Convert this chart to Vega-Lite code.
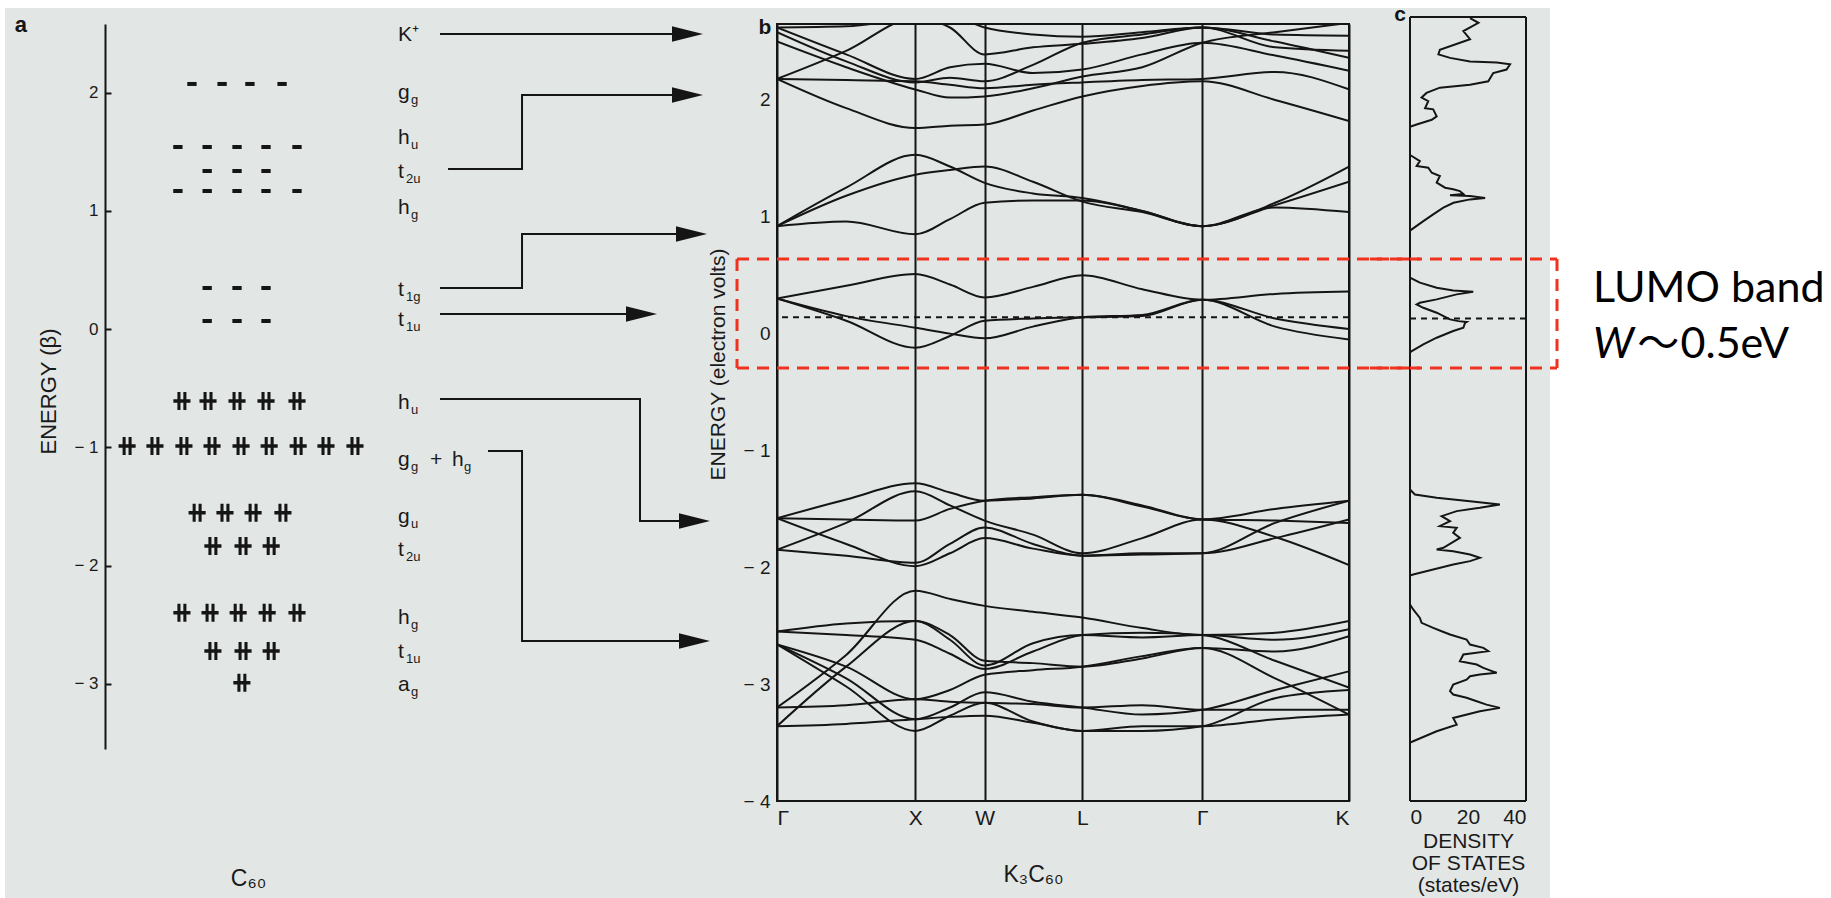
{
"$schema": "https://vega.github.io/schema/vega-lite/v6.json",
"background": "white",
"padding": 0,
"autosize": {"type": "pad"},
"bounds": "flush",
"spacing": 61,
"config": {
  "view": {"stroke": null},
  "font": "Liberation Sans",
  "axis": {"grid": false, "labelColor": "#1a1a1a", "titleColor": "#1a1a1a", "labelFont": "Liberation Sans", "titleFont": "Liberation Sans", "titleFontWeight": "normal"}
},
"datasets": {
  "levels": [
    {"E":2.073,"s":-1.71,"occ":"e"},{"E":2.073,"s":-0.66,"occ":"e"},{"E":2.073,"s":0.31,"occ":"e"},{"E":2.073,"s":1.43,"occ":"e"},
    {"E":1.540,"s":-2.20,"occ":"e"},{"E":1.540,"s":-1.18,"occ":"e"},{"E":1.540,"s":-0.14,"occ":"e"},{"E":1.540,"s":0.87,"occ":"e"},{"E":1.540,"s":1.95,"occ":"e"},
    {"E":1.337,"s":-1.18,"occ":"e"},{"E":1.337,"s":-0.14,"occ":"e"},{"E":1.337,"s":0.87,"occ":"e"},
    {"E":1.168,"s":-2.20,"occ":"e"},{"E":1.168,"s":-1.18,"occ":"e"},{"E":1.168,"s":-0.14,"occ":"e"},{"E":1.168,"s":0.87,"occ":"e"},{"E":1.168,"s":1.95,"occ":"e"},
    {"E":0.348,"s":-1.18,"occ":"e"},{"E":0.348,"s":-0.14,"occ":"e"},{"E":0.348,"s":0.87,"occ":"e"},
    {"E":0.069,"s":-1.18,"occ":"e"},{"E":0.069,"s":-0.14,"occ":"e"},{"E":0.069,"s":0.87,"occ":"e"},
    {"E":-0.608,"s":-2.06,"occ":"f"},{"E":-0.608,"s":-1.15,"occ":"f"},{"E":-0.608,"s":-0.14,"occ":"f"},{"E":-0.608,"s":0.87,"occ":"f"},{"E":-0.608,"s":1.95,"occ":"f"},
    {"E":-0.988,"s":-3.97,"occ":"f"},{"E":-0.988,"s":-3.0,"occ":"f"},{"E":-0.988,"s":-1.99,"occ":"f"},{"E":-0.988,"s":-1.01,"occ":"f"},{"E":-0.988,"s":0,"occ":"f"},{"E":-0.988,"s":0.98,"occ":"f"},{"E":-0.988,"s":1.99,"occ":"f"},{"E":-0.988,"s":2.96,"occ":"f"},{"E":-0.988,"s":3.97,"occ":"f"},
    {"E":-1.552,"s":-1.53,"occ":"f"},{"E":-1.552,"s":-0.56,"occ":"f"},{"E":-1.552,"s":0.42,"occ":"f"},{"E":-1.552,"s":1.46,"occ":"f"},
    {"E":-1.834,"s":-0.98,"occ":"f"},{"E":-1.834,"s":0.07,"occ":"f"},{"E":-1.834,"s":1.05,"occ":"f"},
    {"E":-2.398,"s":-2.06,"occ":"f"},{"E":-2.398,"s":-1.08,"occ":"f"},{"E":-2.398,"s":-0.10,"occ":"f"},{"E":-2.398,"s":0.91,"occ":"f"},{"E":-2.398,"s":1.95,"occ":"f"},
    {"E":-2.722,"s":-0.98,"occ":"f"},{"E":-2.722,"s":0.07,"occ":"f"},{"E":-2.722,"s":1.05,"occ":"f"},
    {"E":-2.990,"s":0.03,"occ":"f"}
  ],
  "orbLabels": [
    {"t":"K⁺","sub":"","E":2.436,"s":5.47,"s2":5.92},
    {"t":"g","sub":"g","E":1.943,"s":5.47,"s2":5.92},
    {"t":"h","sub":"u","E":1.565,"s":5.47,"s2":5.92},
    {"t":"t","sub":"2u","E":1.278,"s":5.47,"s2":5.75},
    {"t":"h","sub":"g","E":0.973,"s":5.47,"s2":5.92},
    {"t":"t","sub":"1g","E":0.280,"s":5.47,"s2":5.75},
    {"t":"t","sub":"1u","E":0.027,"s":5.47,"s2":5.75},
    {"t":"h","sub":"u","E":-0.675,"s":5.47,"s2":5.92},
    {"t":"g","sub":"g","E":-1.157,"s":5.47,"s2":5.92},
    {"t":"+","sub":"","E":-1.157,"s":6.585,"s2":6.9},
    {"t":"h","sub":"g","E":-1.157,"s":7.352,"s2":7.77},
    {"t":"g","sub":"u","E":-1.639,"s":5.47,"s2":5.92},
    {"t":"t","sub":"2u","E":-1.918,"s":5.47,"s2":5.75},
    {"t":"h","sub":"g","E":-2.493,"s":5.47,"s2":5.92},
    {"t":"t","sub":"1u","E":-2.780,"s":5.47,"s2":5.75},
    {"t":"a","sub":"g","E":-3.059,"s":5.47,"s2":5.92}
  ],
  "arrows": [
    {"a":1,"o":0,"s":6.934,"E":2.495},{"a":1,"o":1,"s":15.557,"E":2.495},
    {"a":2,"o":0,"s":7.213,"E":1.354},{"a":2,"o":1,"s":9.791,"E":1.354},{"a":2,"o":2,"s":9.791,"E":1.980},{"a":2,"o":3,"s":15.557,"E":1.980},
    {"a":3,"o":0,"s":6.934,"E":0.348},{"a":3,"o":1,"s":9.791,"E":0.348},{"a":3,"o":2,"s":9.791,"E":0.804},{"a":3,"o":3,"s":15.697,"E":0.804},
    {"a":4,"o":0,"s":6.934,"E":0.128},{"a":4,"o":1,"s":13.955,"E":0.128},
    {"a":5,"o":0,"s":6.934,"E":-0.591},{"a":5,"o":1,"s":13.902,"E":-0.591},{"a":5,"o":2,"s":13.902,"E":-1.622},{"a":5,"o":3,"s":15.801,"E":-1.622},
    {"a":6,"o":0,"s":8.606,"E":-1.030},{"a":6,"o":1,"s":9.791,"E":-1.030},{"a":6,"o":2,"s":9.791,"E":-2.637},{"a":6,"o":3,"s":15.801,"E":-2.637}
  ],
  "heads": [
    {"s":15.557,"E":2.495},{"s":15.557,"E":1.980},{"s":15.697,"E":0.804},{"s":13.955,"E":0.128},{"s":15.801,"E":-1.622},{"s":15.801,"E":-2.637}
  ],
  "bands": [
    {"b":"b1","k":0,"E":0.30},{"b":"b1","k":0.5,"E":0.41},{"b":"b1","k":1,"E":0.51},{"b":"b1","k":1.25,"E":0.42},{"b":"b1","k":1.5,"E":0.31},{"b":"b1","k":1.85,"E":0.40},{"b":"b1","k":2.207,"E":0.50},{"b":"b1","k":2.64,"E":0.38},{"b":"b1","k":3.073,"E":0.29},{"b":"b1","k":3.6,"E":0.34},{"b":"b1","k":4.134,"E":0.36},
    {"b":"b2","k":0,"E":0.30},{"b":"b2","k":0.5,"E":0.15},{"b":"b2","k":1,"E":0.05},{"b":"b2","k":1.25,"E":0.00},{"b":"b2","k":1.5,"E":-0.04},{"b":"b2","k":1.85,"E":0.06},{"b":"b2","k":2.207,"E":0.14},{"b":"b2","k":2.64,"E":0.16},{"b":"b2","k":3.073,"E":0.29},{"b":"b2","k":3.6,"E":0.13},{"b":"b2","k":4.134,"E":0.04},
    {"b":"b3","k":0,"E":0.30},{"b":"b3","k":0.5,"E":0.11},{"b":"b3","k":1,"E":-0.12},{"b":"b3","k":1.25,"E":-0.02},{"b":"b3","k":1.5,"E":0.11},{"b":"b3","k":1.85,"E":0.13},{"b":"b3","k":2.207,"E":0.14},{"b":"b3","k":2.64,"E":0.15},{"b":"b3","k":3.073,"E":0.29},{"b":"b3","k":3.6,"E":0.06},{"b":"b3","k":4.134,"E":-0.05},
    {"b":"c1","k":0,"E":0.92},{"b":"c1","k":0.5,"E":1.25},{"b":"c1","k":1,"E":1.53},{"b":"c1","k":1.25,"E":1.43},{"b":"c1","k":1.5,"E":1.29},{"b":"c1","k":1.85,"E":1.20},{"b":"c1","k":2.207,"E":1.16},{"b":"c1","k":2.64,"E":1.05},{"b":"c1","k":3.073,"E":0.92},{"b":"c1","k":3.6,"E":1.12},{"b":"c1","k":4.134,"E":1.43},
    {"b":"c2","k":0,"E":0.92},{"b":"c2","k":0.5,"E":1.18},{"b":"c2","k":1,"E":1.36},{"b":"c2","k":1.25,"E":1.40},{"b":"c2","k":1.5,"E":1.43},{"b":"c2","k":1.85,"E":1.30},{"b":"c2","k":2.207,"E":1.13},{"b":"c2","k":2.64,"E":1.04},{"b":"c2","k":3.073,"E":0.92},{"b":"c2","k":3.6,"E":1.10},{"b":"c2","k":4.134,"E":1.30},
    {"b":"c3","k":0,"E":0.92},{"b":"c3","k":0.5,"E":0.96},{"b":"c3","k":1,"E":0.85},{"b":"c3","k":1.25,"E":0.98},{"b":"c3","k":1.5,"E":1.12},{"b":"c3","k":1.85,"E":1.14},{"b":"c3","k":2.207,"E":1.14},{"b":"c3","k":2.64,"E":1.05},{"b":"c3","k":3.073,"E":0.92},{"b":"c3","k":3.6,"E":1.08},{"b":"c3","k":4.134,"E":1.04},
    {"b":"ta","k":0,"E":2.18},{"b":"ta","k":0.5,"E":2.17},{"b":"ta","k":1,"E":2.16},{"b":"ta","k":1.25,"E":2.13},{"b":"ta","k":1.5,"E":2.10},{"b":"ta","k":1.85,"E":2.13},{"b":"ta","k":2.207,"E":2.15},{"b":"ta","k":2.64,"E":2.17},{"b":"ta","k":3.073,"E":2.18},{"b":"ta","k":3.6,"E":2.24},{"b":"ta","k":4.134,"E":2.09},
    {"b":"tb","k":0,"E":2.18},{"b":"tb","k":0.5,"E":1.93},{"b":"tb","k":1,"E":1.76},{"b":"tb","k":1.25,"E":1.78},{"b":"tb","k":1.5,"E":1.79},{"b":"tb","k":1.85,"E":1.91},{"b":"tb","k":2.207,"E":2.03},{"b":"tb","k":2.64,"E":2.12},{"b":"tb","k":3.073,"E":2.16},{"b":"tb","k":3.6,"E":2.00},{"b":"tb","k":4.134,"E":1.82},
    {"b":"tc","k":0,"E":2.18},{"b":"tc","k":0.5,"E":2.42},{"b":"tc","k":1,"E":2.70},{"b":"tc","k":1.25,"E":2.62},{"b":"tc","k":1.5,"E":2.39},{"b":"tc","k":1.85,"E":2.45},{"b":"tc","k":2.207,"E":2.48},{"b":"tc","k":2.64,"E":2.53},{"b":"tc","k":3.073,"E":2.62},{"b":"tc","k":3.6,"E":2.50},{"b":"tc","k":4.134,"E":2.36},
    {"b":"td","k":0,"E":2.62},{"b":"td","k":0.5,"E":2.39},{"b":"td","k":1,"E":2.18},{"b":"td","k":1.25,"E":2.28},{"b":"td","k":1.5,"E":2.31},{"b":"td","k":1.85,"E":2.23},{"b":"td","k":2.207,"E":2.26},{"b":"td","k":2.64,"E":2.39},{"b":"td","k":3.073,"E":2.49},{"b":"td","k":3.6,"E":2.38},{"b":"td","k":4.134,"E":2.25},
    {"b":"te","k":0,"E":2.58},{"b":"te","k":0.5,"E":2.33},{"b":"te","k":1,"E":2.15},{"b":"te","k":1.25,"E":2.19},{"b":"te","k":1.5,"E":2.16},{"b":"te","k":1.85,"E":2.30},{"b":"te","k":2.207,"E":2.49},{"b":"te","k":2.64,"E":2.56},{"b":"te","k":3.073,"E":2.62},{"b":"te","k":3.6,"E":2.56},{"b":"te","k":4.134,"E":2.55},
    {"b":"tf","k":0,"E":2.50},{"b":"tf","k":0.5,"E":2.28},{"b":"tf","k":1,"E":2.09},{"b":"tf","k":1.25,"E":2.02},{"b":"tf","k":1.5,"E":2.03},{"b":"tf","k":1.85,"E":2.10},{"b":"tf","k":2.207,"E":2.20},{"b":"tf","k":2.64,"E":2.28},{"b":"tf","k":3.073,"E":2.49},{"b":"tf","k":3.6,"E":2.58},{"b":"tf","k":4.134,"E":2.66},
    {"b":"tg","k":0,"E":2.62},{"b":"tg","k":0.5,"E":2.63},{"b":"tg","k":1,"E":2.70},{"b":"tg","k":1.25,"E":2.72},{"b":"tg","k":1.5,"E":2.62},{"b":"tg","k":1.85,"E":2.56},{"b":"tg","k":2.207,"E":2.54},{"b":"tg","k":2.64,"E":2.58},{"b":"tg","k":3.073,"E":2.62},{"b":"tg","k":3.6,"E":2.45},{"b":"tg","k":4.134,"E":2.42},
    {"b":"h1","k":0,"E":-1.58},{"b":"h1","k":0.5,"E":-1.42},{"b":"h1","k":1,"E":-1.28},{"b":"h1","k":1.25,"E":-1.36},{"b":"h1","k":1.5,"E":-1.43},{"b":"h1","k":1.85,"E":-1.41},{"b":"h1","k":2.207,"E":-1.38},{"b":"h1","k":2.64,"E":-1.47},{"b":"h1","k":3.073,"E":-1.59},{"b":"h1","k":3.6,"E":-1.50},{"b":"h1","k":4.134,"E":-1.43},
    {"b":"h2","k":0,"E":-1.58},{"b":"h2","k":0.5,"E":-1.59},{"b":"h2","k":1,"E":-1.60},{"b":"h2","k":1.25,"E":-1.50},{"b":"h2","k":1.5,"E":-1.43},{"b":"h2","k":1.85,"E":-1.40},{"b":"h2","k":2.207,"E":-1.38},{"b":"h2","k":2.64,"E":-1.48},{"b":"h2","k":3.073,"E":-1.59},{"b":"h2","k":3.6,"E":-1.60},{"b":"h2","k":4.134,"E":-1.62},
    {"b":"h3","k":0,"E":-1.58},{"b":"h3","k":0.5,"E":-1.80},{"b":"h3","k":1,"E":-1.99},{"b":"h3","k":1.25,"E":-1.88},{"b":"h3","k":1.5,"E":-1.75},{"b":"h3","k":1.85,"E":-1.84},{"b":"h3","k":2.207,"E":-1.90},{"b":"h3","k":2.64,"E":-1.88},{"b":"h3","k":3.073,"E":-1.88},{"b":"h3","k":3.6,"E":-1.75},{"b":"h3","k":4.134,"E":-1.59},
    {"b":"h4","k":0,"E":-1.85},{"b":"h4","k":0.5,"E":-1.62},{"b":"h4","k":1,"E":-1.35},{"b":"h4","k":1.25,"E":-1.47},{"b":"h4","k":1.5,"E":-1.60},{"b":"h4","k":1.85,"E":-1.72},{"b":"h4","k":2.207,"E":-1.88},{"b":"h4","k":2.64,"E":-1.75},{"b":"h4","k":3.073,"E":-1.59},{"b":"h4","k":3.6,"E":-1.74},{"b":"h4","k":4.134,"E":-1.98},
    {"b":"h5","k":0,"E":-1.85},{"b":"h5","k":0.5,"E":-1.90},{"b":"h5","k":1,"E":-1.96},{"b":"h5","k":1.25,"E":-1.80},{"b":"h5","k":1.5,"E":-1.66},{"b":"h5","k":1.85,"E":-1.80},{"b":"h5","k":2.207,"E":-1.90},{"b":"h5","k":2.64,"E":-1.89},{"b":"h5","k":3.073,"E":-1.88},{"b":"h5","k":3.6,"E":-1.62},{"b":"h5","k":4.134,"E":-1.43},
    {"b":"g1","k":0,"E":-3.20},{"b":"g1","k":0.5,"E":-2.75},{"b":"g1","k":1,"E":-2.20},{"b":"g1","k":1.25,"E":-2.27},{"b":"g1","k":1.5,"E":-2.33},{"b":"g1","k":1.85,"E":-2.38},{"b":"g1","k":2.207,"E":-2.43},{"b":"g1","k":2.64,"E":-2.52},{"b":"g1","k":3.073,"E":-2.58},{"b":"g1","k":3.6,"E":-2.56},{"b":"g1","k":4.134,"E":-2.46},
    {"b":"g2","k":0,"E":-3.36},{"b":"g2","k":0.5,"E":-2.85},{"b":"g2","k":1,"E":-2.46},{"b":"g2","k":1.25,"E":-2.58},{"b":"g2","k":1.5,"E":-2.80},{"b":"g2","k":1.85,"E":-2.82},{"b":"g2","k":2.207,"E":-2.85},{"b":"g2","k":2.64,"E":-2.78},{"b":"g2","k":3.073,"E":-2.69},{"b":"g2","k":3.6,"E":-2.95},{"b":"g2","k":4.134,"E":-3.26},
    {"b":"g3","k":0,"E":-2.55},{"b":"g3","k":0.5,"E":-2.48},{"b":"g3","k":1,"E":-2.46},{"b":"g3","k":1.25,"E":-2.62},{"b":"g3","k":1.5,"E":-2.84},{"b":"g3","k":1.85,"E":-2.65},{"b":"g3","k":2.207,"E":-2.58},{"b":"g3","k":2.64,"E":-2.60},{"b":"g3","k":3.073,"E":-2.58},{"b":"g3","k":3.6,"E":-2.62},{"b":"g3","k":4.134,"E":-2.53},
    {"b":"g4","k":0,"E":-2.55},{"b":"g4","k":0.5,"E":-2.58},{"b":"g4","k":1,"E":-2.62},{"b":"g4","k":1.25,"E":-2.74},{"b":"g4","k":1.5,"E":-2.87},{"b":"g4","k":1.85,"E":-2.72},{"b":"g4","k":2.207,"E":-2.58},{"b":"g4","k":2.64,"E":-2.56},{"b":"g4","k":3.073,"E":-2.58},{"b":"g4","k":3.6,"E":-2.80},{"b":"g4","k":4.134,"E":-3.03},
    {"b":"g5","k":0,"E":-2.66},{"b":"g5","k":0.5,"E":-2.85},{"b":"g5","k":1,"E":-3.13},{"b":"g5","k":1.25,"E":-3.05},{"b":"g5","k":1.5,"E":-2.92},{"b":"g5","k":1.85,"E":-2.88},{"b":"g5","k":2.207,"E":-2.85},{"b":"g5","k":2.64,"E":-2.76},{"b":"g5","k":3.073,"E":-2.69},{"b":"g5","k":3.6,"E":-2.72},{"b":"g5","k":4.134,"E":-2.59},
    {"b":"g6","k":0,"E":-2.66},{"b":"g6","k":0.5,"E":-2.95},{"b":"g6","k":1,"E":-3.30},{"b":"g6","k":1.25,"E":-3.20},{"b":"g6","k":1.5,"E":-3.07},{"b":"g6","k":1.85,"E":-3.15},{"b":"g6","k":2.207,"E":-3.20},{"b":"g6","k":2.64,"E":-3.26},{"b":"g6","k":3.073,"E":-3.22},{"b":"g6","k":3.6,"E":-3.05},{"b":"g6","k":4.134,"E":-2.89},
    {"b":"g7","k":0,"E":-2.66},{"b":"g7","k":0.5,"E":-3.02},{"b":"g7","k":1,"E":-3.40},{"b":"g7","k":1.25,"E":-3.27},{"b":"g7","k":1.5,"E":-3.16},{"b":"g7","k":1.85,"E":-3.32},{"b":"g7","k":2.207,"E":-3.40},{"b":"g7","k":2.64,"E":-3.40},{"b":"g7","k":3.073,"E":-3.36},{"b":"g7","k":3.6,"E":-3.12},{"b":"g7","k":4.134,"E":-3.05},
    {"b":"g8","k":0,"E":-3.20},{"b":"g8","k":0.5,"E":-3.18},{"b":"g8","k":1,"E":-3.13},{"b":"g8","k":1.25,"E":-3.15},{"b":"g8","k":1.5,"E":-3.16},{"b":"g8","k":1.85,"E":-3.17},{"b":"g8","k":2.207,"E":-3.20},{"b":"g8","k":2.64,"E":-3.18},{"b":"g8","k":3.073,"E":-3.22},{"b":"g8","k":3.6,"E":-3.22},{"b":"g8","k":4.134,"E":-3.22},
    {"b":"g9","k":0,"E":-3.36},{"b":"g9","k":0.5,"E":-3.34},{"b":"g9","k":1,"E":-3.30},{"b":"g9","k":1.25,"E":-3.28},{"b":"g9","k":1.5,"E":-3.27},{"b":"g9","k":1.85,"E":-3.33},{"b":"g9","k":2.207,"E":-3.40},{"b":"g9","k":2.64,"E":-3.36},{"b":"g9","k":3.073,"E":-3.36},{"b":"g9","k":3.6,"E":-3.30},{"b":"g9","k":4.134,"E":-3.26}
  ],
  "dos": [
    {"E":2.70,"D":20.7},{"E":2.66,"D":23.6},{"E":2.59,"D":18.4},{"E":2.52,"D":20.7},{"E":2.43,"D":10.3},{"E":2.39,"D":9.8},{"E":2.36,"D":13.8},{"E":2.33,"D":20.7},{"E":2.32,"D":29.9},{"E":2.305,"D":34.5},{"E":2.26,"D":33.3},{"E":2.23,"D":28.7},{"E":2.16,"D":27.0},{"E":2.13,"D":20.7},{"E":2.105,"D":10.3},{"E":2.06,"D":5.7},{"E":2.02,"D":4.0},{"E":1.99,"D":6.3},{"E":1.93,"D":5.2},{"E":1.92,"D":8.0},{"E":1.86,"D":9.2},{"E":1.83,"D":7.5},{"E":1.79,"D":2.3},{"E":1.77,"D":0},
    {"E":1.53,"D":0},{"E":1.52,"D":0.6},{"E":1.477,"D":3.4},{"E":1.434,"D":2.3},{"E":1.42,"D":6.3},{"E":1.377,"D":7.5},{"E":1.349,"D":10.3},{"E":1.292,"D":9.2},{"E":1.249,"D":12.1},{"E":1.235,"D":14.9},{"E":1.22,"D":17.2},{"E":1.195,"D":18.4},{"E":1.185,"D":13.8},{"E":1.178,"D":20.7},{"E":1.16,"D":25.9},{"E":1.149,"D":20.7},{"E":1.12,"D":15.0},{"E":1.078,"D":11.5},{"E":1.02,"D":8.0},{"E":0.963,"D":4.6},{"E":0.892,"D":0.6},{"E":0.88,"D":0},
    {"E":0.48,"D":0},{"E":0.436,"D":3.4},{"E":0.393,"D":9.2},{"E":0.37,"D":14.9},{"E":0.358,"D":21.8},{"E":0.336,"D":16.1},{"E":0.293,"D":9.2},{"E":0.264,"D":3.4},{"E":0.25,"D":2.3},{"E":0.221,"D":4.6},{"E":0.179,"D":9.2},{"E":0.122,"D":13.8},{"E":0.107,"D":16.7},{"E":0.10,"D":19.5},{"E":0.093,"D":19.0},{"E":0.05,"D":18.4},{"E":0.022,"D":14.9},{"E":-0.035,"D":9.2},{"E":-0.092,"D":4.6},{"E":-0.15,"D":0.6},{"E":-0.16,"D":0},
    {"E":-1.334,"D":0},{"E":-1.377,"D":1.7},{"E":-1.405,"D":9.2},{"E":-1.434,"D":20.7},{"E":-1.462,"D":31.0},{"E":-1.491,"D":24.1},{"E":-1.519,"D":16.1},{"E":-1.562,"D":10.9},{"E":-1.605,"D":13.8},{"E":-1.648,"D":10.3},{"E":-1.662,"D":16.1},{"E":-1.705,"D":14.9},{"E":-1.748,"D":17.2},{"E":-1.833,"D":11.5},{"E":-1.848,"D":9.2},{"E":-1.862,"D":14.9},{"E":-1.89,"D":20.7},{"E":-1.919,"D":24.1},{"E":-1.947,"D":20.7},{"E":-1.976,"D":14.9},{"E":-2.019,"D":8.0},{"E":-2.062,"D":1.1},{"E":-2.07,"D":0},
    {"E":-2.318,"D":0},{"E":-2.361,"D":1.1},{"E":-2.433,"D":3.4},{"E":-2.475,"D":4.0},{"E":-2.518,"D":8.0},{"E":-2.547,"D":10.9},{"E":-2.575,"D":13.8},{"E":-2.618,"D":19.5},{"E":-2.661,"D":20.7},{"E":-2.689,"D":25.3},{"E":-2.718,"D":27.0},{"E":-2.746,"D":18.4},{"E":-2.804,"D":17.2},{"E":-2.832,"D":23.0},{"E":-2.861,"D":25.3},{"E":-2.903,"D":29.9},{"E":-2.918,"D":24.1},{"E":-2.932,"D":20.7},{"E":-2.961,"D":19.5},{"E":-3.003,"D":14.9},{"E":-3.06,"D":13.8},{"E":-3.089,"D":14.9},{"E":-3.117,"D":19.5},{"E":-3.146,"D":23.0},{"E":-3.175,"D":26.4},{"E":-3.203,"D":31.0},{"E":-3.232,"D":24.1},{"E":-3.289,"D":14.9},{"E":-3.346,"D":16.1},{"E":-3.403,"D":9.2},{"E":-3.489,"D":1.1},{"E":-3.5,"D":0}
  ]
},
"hconcat": [
  {
    "width": 611, "height": 725,
    "layer": [
      {"data": {"values": [{}]}, "mark": {"type": "rect", "fill": "#ffffff"},
       "encoding": {
         "x": {"datum": -8.3986, "type": "quantitative", "scale": {"domain": [-4.74, 16.55], "nice": false, "zero": false},
               "axis": {"title": "C₆₀", "domain": false, "ticks": false, "labels": false, "grid": false, "zindex": 1, "titleFontSize": 23, "titleX": 143, "titleY": 129, "titleBaseline": "middle", "titleAlign": "center"}},
         "x2": {"datum": 55.402},
         "y": {"datum": 2.7745, "type": "quantitative", "scale": {"domain": [-3.55, 2.58], "nice": false, "zero": false},
               "axis": {"values": [-3, -2, -1, 0, 1, 2], "labelExpr": "datum.value < 0 ? '− ' + abs(datum.value) : '' + datum.value", "zindex": 1, "domainColor": "#151515", "domainWidth": 2, "ticks": true, "tickSize": -6, "tickColor": "#151515", "tickWidth": 2, "labelPadding": 13, "labelFontSize": 17, "title": "ENERGY (β)", "titleFontSize": 22, "titleX": -57, "titleY": 367, "titleAngle": 270, "titleAlign": "center", "titleBaseline": "middle"}},
         "y2": {"datum": -4.8183}
       }},
      {"data": {"values": [{}]}, "mark": {"type": "rect", "fill": "#e2e7e5"},
       "encoding": {
         "x": {"datum": -8.2245, "type": "quantitative"},
         "x2": {"datum": 45.609},
         "y": {"datum": 2.7153, "type": "quantitative"},
         "y2": {"datum": -4.8183}
       }},
      {"data": {"name": "levels"}, "transform": [{"filter": "datum.occ == 'e'"}],
       "mark": {"type": "point", "shape": "M-1,-0.43L1,-0.43L1,0.43L-1,0.43Z", "size": 87, "filled": true, "color": "#151515", "opacity": 1, "strokeWidth": 0},
       "encoding": {"x": {"field": "s", "type": "quantitative"}, "y": {"field": "E", "type": "quantitative"}}},
      {"data": {"name": "levels"}, "transform": [{"filter": "datum.occ == 'f'"}],
       "mark": {"type": "point", "shape": "M-0.95,-0.2L0.95,-0.2L0.95,0.2L-0.95,0.2Z M-0.5,-1L-0.16,-1L-0.16,1L-0.5,1Z M0.16,-1L0.5,-1L0.5,1L0.16,1Z", "size": 324, "filled": true, "color": "#151515", "opacity": 1, "strokeWidth": 0},
       "encoding": {"x": {"field": "s", "type": "quantitative"}, "y": {"field": "E", "type": "quantitative"}}},
      {"data": {"name": "arrows"},
       "mark": {"type": "line", "strokeWidth": 2, "color": "#151515"},
       "encoding": {"x": {"field": "s", "type": "quantitative"}, "y": {"field": "E", "type": "quantitative"}, "detail": {"field": "a", "type": "nominal"}, "order": {"field": "o", "type": "quantitative"}}},
      {"data": {"name": "heads"},
       "mark": {"type": "point", "shape": "M-1,-0.5L1,0L-1,0.5Z", "size": 961, "filled": true, "color": "#151515", "opacity": 1, "strokeWidth": 0},
       "encoding": {"x": {"field": "s", "type": "quantitative"}, "y": {"field": "E", "type": "quantitative"}}},
      {"data": {"name": "orbLabels"},
       "mark": {"type": "text", "align": "left", "baseline": "alphabetic", "fontSize": 21, "color": "#1a1a1a"},
       "encoding": {"x": {"field": "s", "type": "quantitative"}, "y": {"field": "E", "type": "quantitative"}, "text": {"field": "t"}}},
      {"data": {"name": "orbLabels"},
       "mark": {"type": "text", "align": "left", "baseline": "alphabetic", "fontSize": 13, "dy": 5, "color": "#1a1a1a"},
       "encoding": {"x": {"field": "s2", "type": "quantitative"}, "y": {"field": "E", "type": "quantitative"}, "text": {"field": "sub"}}},
      {"data": {"values": [{}]},
       "mark": {"type": "text", "text": "a", "fontSize": 22, "fontWeight": "bold", "align": "center", "baseline": "middle", "color": "#151515"},
       "encoding": {"x": {"datum": -7.667, "type": "quantitative"}, "y": {"datum": 2.572, "type": "quantitative"}}}
    ]
  },
  {
    "width": 572, "height": 777,
    "view": {"stroke": "#151515", "strokeWidth": 2},
    "layer": [
      {"data": {"name": "bands"},
       "mark": {"type": "line", "interpolate": "monotone", "clip": true, "strokeWidth": 2, "color": "#151515"},
       "encoding": {
         "x": {"field": "k", "type": "quantitative", "scale": {"domain": [0, 4.134], "nice": false, "zero": false},
               "axis": {"values": [0, 1, 1.5, 2.207, 3.073, 4.134], "labelExpr": "datum.value < 0.5 ? 'Γ' : datum.value < 1.2 ? 'X' : datum.value < 1.8 ? 'W' : datum.value < 2.6 ? 'L' : datum.value < 3.5 ? 'Γ' : 'K'", "grid": true, "gridColor": "#151515", "gridWidth": 2, "gridOpacity": 1, "ticks": false, "domain": false, "labelFlush": true, "labelFontSize": 21, "labelPadding": 6, "title": "K₃C₆₀", "titleFontSize": 23, "titleX": 256, "titleY": 73, "titleBaseline": "middle", "titleAlign": "center"}},
         "y": {"field": "E", "type": "quantitative", "scale": {"domain": [-4.0, 2.65], "nice": false, "zero": false},
               "axis": {"values": [-4, -3, -2, -1, 0, 1, 2], "labelExpr": "datum.value < 0 ? '− ' + abs(datum.value) : '' + datum.value", "ticks": false, "domain": false, "labelPadding": 7, "labelFontSize": 19, "title": "ENERGY (electron volts)", "titleFontSize": 21, "titleX": -59, "titleY": 340, "titleAngle": 270, "titleAlign": "center", "titleBaseline": "middle"}},
         "detail": {"field": "b", "type": "nominal"}
       }},
      {"data": {"values": [{}]},
       "mark": {"type": "rule", "strokeDash": [6, 5], "strokeWidth": 2, "color": "#151515"},
       "encoding": {"y": {"datum": 0.14, "type": "quantitative"}}},
      {"data": {"values": [{}]},
       "mark": {"type": "rule", "strokeDash": [12, 8], "strokeWidth": 3, "color": "#f0321e", "clip": false},
       "encoding": {"x": {"datum": -0.289, "type": "quantitative"}, "x2": {"datum": 4.646}, "y": {"datum": 0.638, "type": "quantitative"}}},
      {"data": {"values": [{}]},
       "mark": {"type": "rule", "strokeDash": [12, 8], "strokeWidth": 3, "color": "#f0321e", "clip": false},
       "encoding": {"x": {"datum": -0.289, "type": "quantitative"}, "x2": {"datum": 4.646}, "y": {"datum": -0.295, "type": "quantitative"}}},
      {"data": {"values": [{}]},
       "mark": {"type": "rule", "strokeDash": [12, 8], "strokeWidth": 3, "color": "#f0321e", "clip": false},
       "encoding": {"x": {"datum": -0.289, "type": "quantitative"}, "y": {"datum": 0.638, "type": "quantitative"}, "y2": {"datum": -0.295}}},
      {"data": {"values": [{}]},
       "mark": {"type": "text", "text": "b", "fontSize": 21, "fontWeight": "bold", "align": "center", "baseline": "middle", "color": "#151515"},
       "encoding": {"x": {"datum": -0.087, "type": "quantitative"}, "y": {"datum": 2.616, "type": "quantitative"}}}
    ]
  },
  {
    "width": 116, "height": 777,
    "layer": [
      {"data": {"name": "dos"},
       "mark": {"type": "line", "clip": false, "strokeWidth": 2, "color": "#151515"},
       "encoding": {
         "x": {"field": "D", "type": "quantitative", "scale": {"domain": [0, 40], "nice": false, "zero": false},
               "axis": {"values": [0, 20, 40], "ticks": false, "domain": false, "labelFlush": true, "labelFontSize": 21, "labelPadding": 5, "title": ["DENSITY", "OF STATES", "(states/eV)"], "titleFontSize": 21, "titleLineHeight": 22, "titleX": 58, "titleY": 29, "titleBaseline": "top", "titleAlign": "center"}},
         "y": {"field": "E", "type": "quantitative", "scale": {"domain": [-4.0, 2.65], "nice": false, "zero": false}, "axis": null},
         "order": {"field": "E", "type": "quantitative"}
       }},
      {"data": {"values": [{}]},
       "mark": {"type": "rule", "strokeWidth": 2, "color": "#151515", "clip": false},
       "encoding": {"x": {"datum": 0, "type": "quantitative"}, "y": {"datum": 2.71, "type": "quantitative", "axis": null}, "y2": {"datum": -4.0}}},
      {"data": {"values": [{}]},
       "mark": {"type": "rule", "strokeWidth": 2, "color": "#151515", "clip": false},
       "encoding": {"x": {"datum": 40, "type": "quantitative"}, "y": {"datum": 2.71, "type": "quantitative", "axis": null}, "y2": {"datum": -4.0}}},
      {"data": {"values": [{}]},
       "mark": {"type": "rule", "strokeWidth": 2, "color": "#151515", "clip": false},
       "encoding": {"x": {"datum": 0, "type": "quantitative"}, "x2": {"datum": 40}, "y": {"datum": 2.71, "type": "quantitative", "axis": null}}},
      {"data": {"values": [{}]},
       "mark": {"type": "rule", "strokeWidth": 2, "color": "#151515", "clip": false},
       "encoding": {"x": {"datum": 0, "type": "quantitative"}, "x2": {"datum": 40}, "y": {"datum": -4.0, "type": "quantitative", "axis": null}}},
      {"data": {"values": [{}]},
       "mark": {"type": "rule", "strokeDash": [6, 5], "strokeWidth": 2, "color": "#151515"},
       "encoding": {"y": {"datum": 0.13, "type": "quantitative", "axis": null}}},
      {"data": {"values": [{}]},
       "mark": {"type": "rule", "strokeDash": [12, 8], "strokeWidth": 3, "color": "#f0321e", "clip": false},
       "encoding": {"x": {"datum": -13.8, "type": "quantitative"}, "x2": {"datum": 50.69}, "y": {"datum": 0.638, "type": "quantitative", "axis": null}}},
      {"data": {"values": [{}]},
       "mark": {"type": "rule", "strokeDash": [12, 8], "strokeWidth": 3, "color": "#f0321e", "clip": false},
       "encoding": {"x": {"datum": -13.8, "type": "quantitative"}, "x2": {"datum": 50.69}, "y": {"datum": -0.295, "type": "quantitative", "axis": null}}},
      {"data": {"values": [{}]},
       "mark": {"type": "rule", "strokeDash": [12, 8], "strokeWidth": 3, "color": "#f0321e", "clip": false},
       "encoding": {"x": {"datum": 50.69, "type": "quantitative"}, "y": {"datum": 0.638, "type": "quantitative", "axis": null}, "y2": {"datum": -0.295}}},
      {"data": {"values": [{}]},
       "mark": {"type": "text", "text": "c", "fontSize": 21, "fontWeight": "bold", "align": "center", "baseline": "middle", "color": "#151515"},
       "encoding": {"x": {"datum": -3.45, "type": "quantitative"}, "y": {"datum": 2.73, "type": "quantitative", "axis": null}}},
      {"data": {"values": [{}]},
       "mark": {"type": "text", "text": "LUMO band", "font": "Lato", "fontSize": 43, "align": "left", "baseline": "alphabetic", "color": "#000000"},
       "encoding": {"x": {"datum": 63.1, "type": "quantitative"}, "y": {"datum": 0.2707, "type": "quantitative", "axis": null}}},
      {"data": {"values": [{}]},
       "mark": {"type": "text", "text": "W", "font": "Lato", "fontStyle": "italic", "fontSize": 43, "align": "left", "baseline": "alphabetic", "color": "#000000"},
       "encoding": {"x": {"datum": 63.1, "type": "quantitative"}, "y": {"datum": -0.2086, "type": "quantitative", "axis": null}}},
      {"data": {"values": [{}]},
       "mark": {"type": "text", "text": "〜", "font": "Noto Sans CJK JP", "fontSize": 42, "align": "left", "baseline": "alphabetic", "color": "#000000"},
       "encoding": {"x": {"datum": 78.4, "type": "quantitative"}, "y": {"datum": -0.2086, "type": "quantitative", "axis": null}}},
      {"data": {"values": [{}]},
       "mark": {"type": "text", "text": "0.5eV", "font": "Lato", "fontSize": 43, "align": "left", "baseline": "alphabetic", "color": "#000000"},
       "encoding": {"x": {"datum": 93.3, "type": "quantitative"}, "y": {"datum": -0.2086, "type": "quantitative", "axis": null}}}
    ]
  }
]
}
